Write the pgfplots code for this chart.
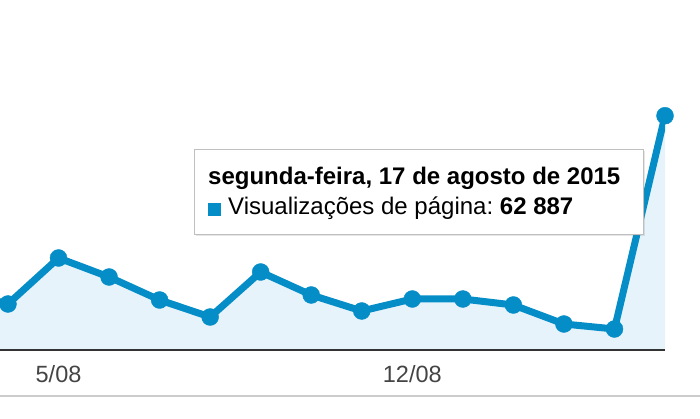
\documentclass[border=0pt]{standalone}
\usepackage{pgfplots}
\pgfplotsset{compat=1.18}
\usepackage{pgfplotstable}
\usepackage{fontspec}
\setmainfont{Liberation Sans}
\usetikzlibrary{shadows}
\frenchspacing

\definecolor{gablue}{HTML}{058DC7}
\definecolor{gafill}{HTML}{E6F3FA}
\definecolor{gagrid}{HTML}{ECECEC}
\definecolor{gatext}{HTML}{444444}

% page views per day, 3/08 .. 17/08 (index 1 = 5/08)
\pgfplotstableread{
x y
-1 16000
0 12349
1 24698
2 19597
3 13423
4 8859
5 20940
6 14765
7 10470
8 13691
9 13691
10 12081
11 6980
12 5638
13 62887
}\views

\begin{document}
\begin{tikzpicture}
\useasboundingbox (0pt,-69pt) rectangle (700pt,350pt);
\clip (0pt,-69pt) rectangle (700pt,350pt);
\begin{axis}[
    scale only axis,
    width=665pt, height=350pt,
    xmin=-0.158, xmax=13,
    ymin=0, ymax=93960,
    axis x line=bottom,
    axis y line=none,
    x axis line style={-, draw=none},
    major tick length=0pt,
    xtick={1,8},
    xticklabels={5/08,12/08},
    xticklabel style={anchor=base, yshift=-33pt,
        font=\fontsize{23.5}{28}\selectfont, text=gatext},
    ytick={40000,80000},
    yticklabels={},
    ymajorgrids,
    grid style={draw=gagrid, line width=1.5pt},
]
\addplot[fill=gafill, draw=none] table {\views} \closedcycle;
\addplot[gablue, line width=7pt, line join=round, no marks] table {\views};
\addplot[only marks, mark=*, mark size=8.5pt, color=gablue,
    skip coords between index={0}{1}] table {\views};
\end{axis}

% x axis base line and the frame's bottom edge
\draw[black!80, line width=2pt] (0pt,0pt) -- (665pt,0pt);
\draw[black!20, line width=1.5pt] (0pt,-46pt) -- (700pt,-46pt);

% tooltip
\node[draw=black!25, line width=1pt, fill=white,
    drop shadow={opacity=0.2, shadow xshift=1.5pt, shadow yshift=-1.5pt},
    minimum width=449pt, minimum height=85pt, anchor=south west,
    inner sep=0pt] at (194pt,115pt) {};
\node[anchor=base west, inner sep=0pt, font=\fontsize{24}{28}\selectfont\bfseries]
    at (208pt,165pt) {segunda-feira, 17 de agosto de 2015};
\fill[gablue] (208pt,134pt) rectangle (221pt,147pt);
\node[anchor=base west, inner sep=0pt, font=\fontsize{24}{28}\selectfont]
    at (228pt,135pt) {Visualizações de página: \textbf{62 887}};
\end{tikzpicture}
\end{document}
